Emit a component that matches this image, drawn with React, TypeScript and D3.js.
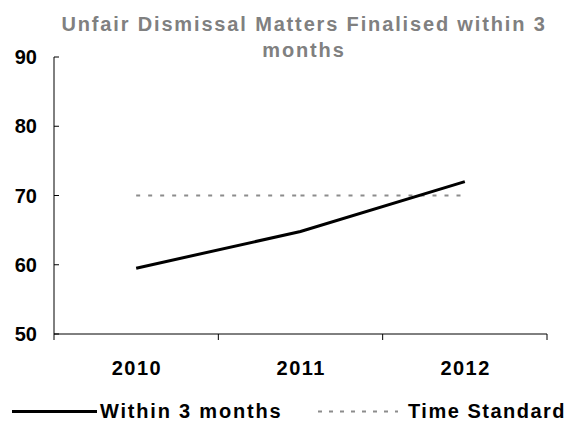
import * as d3 from 'd3';

const years = ['2010', '2011', '2012'];
const within3Months = [59.5, 64.8, 72];
const timeStandard = [70, 70, 70];
const yTicks = [50, 60, 70, 80, 90];
const titleLines = ['Unfair Dismissal Matters Finalised within 3', 'months'];

export default function App() {
    const width = 570;
    const height = 421;
    const margin = { top: 57, right: 23, bottom: 87, left: 54 };
    const innerW = width - margin.left - margin.right;
    const innerH = height - margin.top - margin.bottom;

    const x = d3.scaleBand<string>().domain(years).range([0, innerW]);
    const y = d3.scaleLinear().domain([50, 90]).range([innerH, 0]);
    const cx = (i: number) => (x(years[i]) ?? 0) + x.bandwidth() / 2;

    const line = d3.line<number>()
        .x((_, i) => cx(i))
        .y(d => y(d));

    // dashed series restarts its pattern on every segment
    const segLine = d3.line<[number, number]>().x(d => d[0]).y(d => d[1]);
    const dashSegs = d3.pairs(timeStandard.map((v, i) => [cx(i), y(v)] as [number, number]));

    const font = 'Liberation Sans, Arial, sans-serif';
    const boundaries = [...years.map(yr => x(yr) ?? 0), innerW];

    return (
        <svg width={width} height={height} style={{ position: 'absolute', left: 0, top: 0 }} fontFamily={font}>
            <rect width={width} height={height} fill="#fff" />
            {titleLines.map((t, i) => (
                <text key={t} x={304} y={31 + i * 26} textAnchor="middle" fontSize={20} fontWeight="bold" letterSpacing={1.85} fill="#808080">{t}</text>
            ))}
            <g transform={`translate(${margin.left},${margin.top})`}>
                <line x1={0} x2={0} y1={0} y2={innerH} stroke="#000" />
                <line x1={0} x2={innerW} y1={innerH} y2={innerH} stroke="#000" />
                {yTicks.map(t => (
                    <g key={t} transform={`translate(0,${y(t)})`}>
                        <line x1={0} x2={5} stroke="#000" />
                        <text x={-17} dy="0.36em" textAnchor="end" fontSize={20} fontWeight="bold">{t}</text>
                    </g>
                ))}
                {boundaries.map((b, i) => (
                    <line key={i} x1={b} x2={b} y1={innerH} y2={innerH + 6} stroke="#000" />
                ))}
                {years.map((yr, i) => (
                    <text key={yr} x={cx(i) + 0.8} y={innerH + 41} textAnchor="middle" fontSize={20} fontWeight="bold" letterSpacing={1.5}>{yr}</text>
                ))}
                {dashSegs.map((s, i) => (
                    <path key={i} d={segLine(s) ?? ''} fill="none" stroke="#8c8c8c" strokeWidth={1.8} strokeDasharray="4,8" />
                ))}
                <path d={line(within3Months) ?? ''} fill="none" stroke="#000" strokeWidth={3} />
            </g>
            <g fontSize={20} fontWeight="bold">
                <line x1={12} x2={97} y1={411.5} y2={411.5} stroke="#000" strokeWidth={3} />
                <text x={100} y={418} letterSpacing={1.8}>Within 3 months</text>
                <line x1={318} x2={398} y1={411.5} y2={411.5} stroke="#8c8c8c" strokeWidth={1.8} strokeDasharray="4,7" />
                <text x={408} y={418} letterSpacing={1.5}>Time Standard</text>
            </g>
        </svg>
    );
}
